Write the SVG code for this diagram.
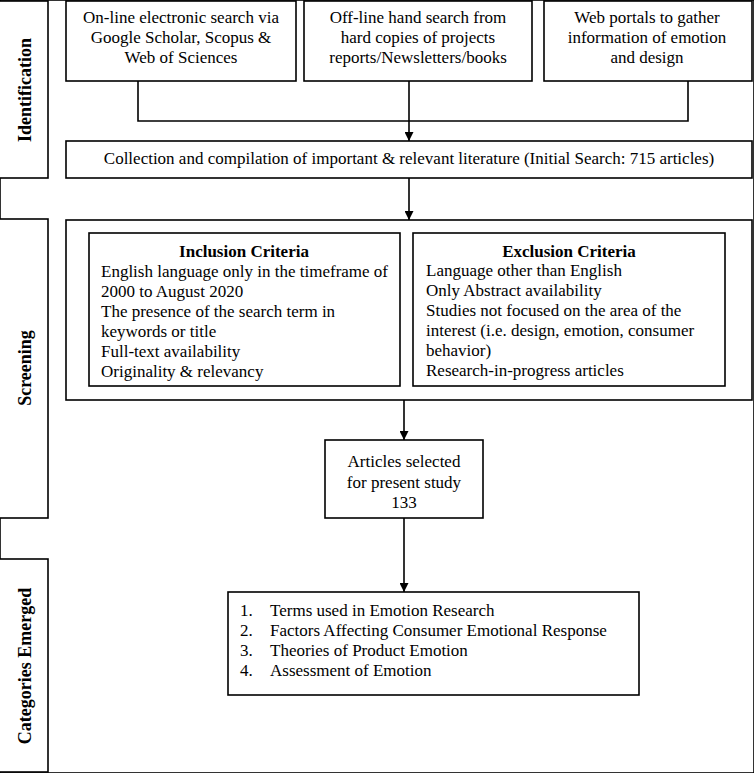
<svg xmlns="http://www.w3.org/2000/svg" width="754" height="773" viewBox="0 0 754 773">
<style>
rect{fill:#fff;stroke:#000;stroke-width:1.6}
text{font-family:"Liberation Serif","Times New Roman",serif;font-size:17px;fill:#000}
.c{text-anchor:middle}
.b{font-weight:bold}
.side{font-weight:bold;font-size:18px;text-anchor:middle}
.ln{fill:none;stroke:#000;stroke-width:1.6}
</style>
<defs>
<marker id="ah" viewBox="0 0 10 10" refX="10" refY="5" markerWidth="10" markerHeight="9" markerUnits="userSpaceOnUse" orient="auto">
<path d="M0,0 L10,5 L0,10 z" fill="#000"/>
</marker>
</defs>
<rect width="754" height="773" fill="#fff" stroke="none"/>

<g id="side-identification">
<rect x="-2" y="1" width="50" height="177"/>
<text class="side" transform="translate(31,90) rotate(-90)">Identification</text>
</g>
<g id="side-screening">
<rect x="-2" y="219" width="50" height="299"/>
<text class="side" transform="translate(31,368) rotate(-90)">Screening</text>
</g>
<g id="side-categories">
<rect x="-2" y="559" width="50" height="213"/>
<text class="side" transform="translate(31,666) rotate(-90)">Categories Emerged</text>
</g>

<g id="src-online">
<rect x="66" y="1" width="230" height="80"/>
<text class="c" x="181" y="23">On-line electronic search via</text>
<text class="c" x="181" y="43">Google Scholar, Scopus &amp;</text>
<text class="c" x="181" y="63">Web of Sciences</text>
</g>
<g id="src-offline">
<rect x="304" y="1" width="228" height="80"/>
<text class="c" x="418" y="23">Off-line hand search from</text>
<text class="c" x="418" y="43">hard copies of projects</text>
<text class="c" x="418" y="63">reports/Newsletters/books</text>
</g>
<g id="src-web">
<rect x="544" y="1" width="208" height="80"/>
<text class="c" x="647" y="23">Web portals to gather</text>
<text class="c" x="647" y="43">information of emotion</text>
<text class="c" x="647" y="63">and design</text>
</g>

<g id="collection">
<rect x="66" y="141" width="686" height="37"/>
<text class="c" x="409" y="164">Collection and compilation of important &amp; relevant literature (Initial Search: 715 articles)</text>
</g>

<g id="screening">
<rect x="66" y="220" width="686" height="180"/>
<g id="inclusion">
<rect x="89" y="233" width="311" height="153"/>
<text class="c b" x="244" y="257">Inclusion Criteria</text>
<text x="101" y="277">English language only in the timeframe of</text>
<text x="101" y="297">2000 to August 2020</text>
<text x="101" y="317">The presence of the search term in</text>
<text x="101" y="337">keywords or title</text>
<text x="101" y="357">Full-text availability</text>
<text x="101" y="377">Originality &amp; relevancy</text>
</g>
<g id="exclusion">
<rect x="413" y="233" width="312" height="153"/>
<text class="c b" x="569" y="257">Exclusion Criteria</text>
<text x="426" y="276">Language other than English</text>
<text x="426" y="296">Only Abstract availability</text>
<text x="426" y="316">Studies not focused on the area of the</text>
<text x="426" y="336">interest (i.e. design, emotion, consumer</text>
<text x="426" y="356">behavior)</text>
<text x="426" y="376">Research-in-progress articles</text>
</g>
</g>

<g id="selected">
<rect x="325" y="440" width="158" height="78"/>
<text class="c" x="404" y="467">Articles selected</text>
<text class="c" x="404" y="488">for present study</text>
<text class="c" x="404" y="508">133</text>
</g>

<g id="categories">
<rect x="228" y="592" width="411" height="103"/>
<text x="240" y="616">1.</text>
<text x="270" y="616">Terms used in Emotion Research</text>
<text x="240" y="636">2.</text>
<text x="270" y="636">Factors Affecting Consumer Emotional Response</text>
<text x="240" y="656">3.</text>
<text x="270" y="656">Theories of Product Emotion</text>
<text x="240" y="676">4.</text>
<text x="270" y="676">Assessment of Emotion</text>
</g>

<g id="connectors">
<polyline class="ln" points="138,81 138,121 688,121 688,81"/>
<line class="ln" x1="409" y1="81" x2="409" y2="141" marker-end="url(#ah)"/>
<line class="ln" x1="409" y1="178" x2="409" y2="220" marker-end="url(#ah)"/>
<line class="ln" x1="404" y1="400" x2="404" y2="440" marker-end="url(#ah)"/>
<line class="ln" x1="404" y1="518" x2="404" y2="592" marker-end="url(#ah)"/>
</g>
</svg>
